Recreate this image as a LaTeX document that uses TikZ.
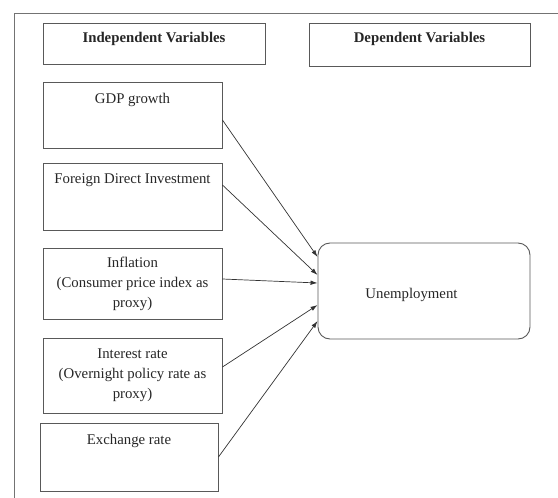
\documentclass[tikz,border=0pt]{standalone}
\usepackage{fontspec}
\setmainfont{Liberation Serif}
\usetikzlibrary{arrows.meta}

\begin{document}
\begin{tikzpicture}[
  x=1pt, y=-1pt,
  every node/.style={draw=black!65, line width=0.9pt, text=black!85, inner sep=0,
    font=\fontsize{14.8}{20}\selectfont},
  var box/.style={rectangle, minimum width=179pt},
  head box/.style={rectangle, minimum width=222pt},
  top text/.style={draw=none, anchor=north, yshift=-11pt},
  head text/.style={top text, yshift=2pt, font=\fontsize{14.8}{20}\selectfont\bfseries},
  link/.style={draw=black!80, line width=0.7pt, -{Latex[length=7pt, width=4.5pt]}}
]

% page frame (only top and left edge are visible)
\useasboundingbox (0,0) rectangle (558,498);
\draw[black!55, line width=1pt] (14,498) -- (14,13) -- (558,13);

\node[head box, minimum height=41pt,
  label={[head text]north:Independent Variables}] (indep) at (154,43.5) {};
\node[head box, minimum width=221pt, minimum height=43pt,
  label={[head text]north:Dependent Variables}] (dep) at (419.5,44.5) {};

\node[var box, minimum height=66pt, label={[top text]north:GDP growth}] (gdp) at (132.5,115) {};
\node[var box, minimum height=67pt, label={[top text]north:Foreign Direct Investment}] (fdi) at (132.5,196.5) {};
\node[var box, minimum height=71pt, align=center] (infl) at (132.5,283.5)
  {Inflation\\(Consumer price index as\\proxy)};
\node[var box, minimum height=75pt, align=center] (intr) at (132.5,375.5)
  {Interest rate\\(Overnight policy rate as\\proxy)};
\node[var box, minimum width=178pt, minimum height=68pt,
  label={[top text]north:Exchange rate}] (exch) at (129,457) {};

\node[rectangle, rounded corners=12pt, minimum width=212pt, minimum height=96pt,
  label={[draw=none, xshift=-12.5pt, yshift=-4pt]center:Unemployment}] (unemp) at (424,291) {};

\draw[link] ([yshift=-5pt]gdp.east) -- ([yshift=34pt]unemp.west);
\draw[link] ([yshift=11.5pt]fdi.east) -- ([yshift=16pt]unemp.west);
\draw[link] ([yshift=4.5pt]infl.east) -- ([yshift=8pt]unemp.west);
\draw[link] ([yshift=8.5pt]intr.east) -- ([yshift=-14pt]unemp.west);
\draw[link] (exch.east) -- ([yshift=-30pt]unemp.west);

\end{tikzpicture}
\end{document}
